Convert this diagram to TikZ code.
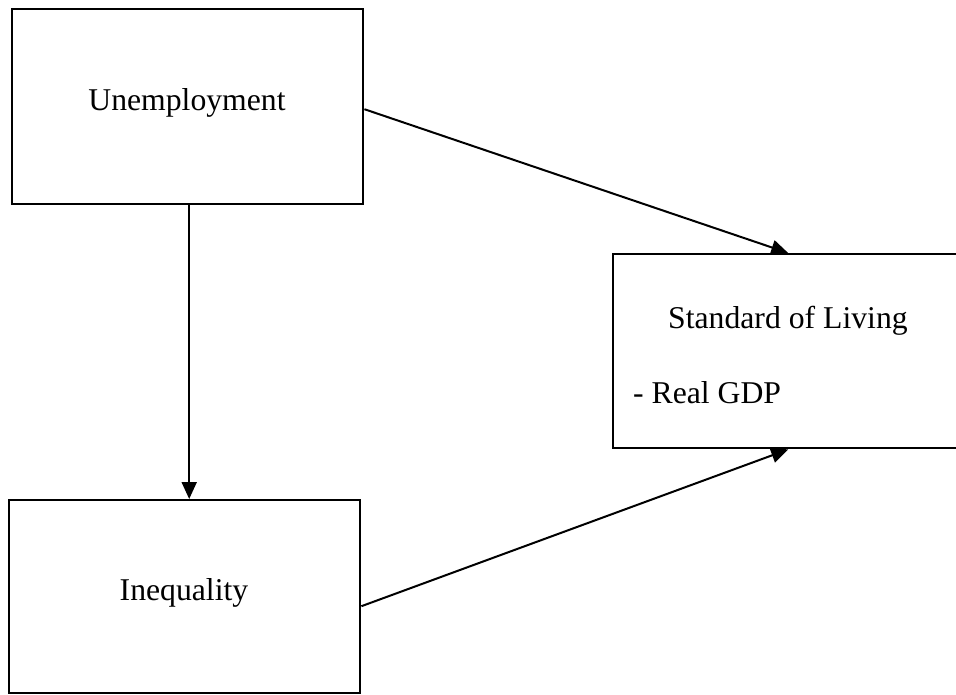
\documentclass[tikz,border=0pt]{standalone}
\usepackage{fontspec}
\setmainfont{Liberation Serif}
\usetikzlibrary{arrows.meta,calc}
\begin{document}
\begin{tikzpicture}[x=1pt,y=-1pt,
  box/.style={draw,line width=2.4pt,inner sep=0pt,anchor=north west},
  lbl/.style={inner sep=0pt,font=\fontsize{31.7}{38}\selectfont},
  conn/.style={line width=2pt,-{Triangle[length=17pt,width=15pt]}}]
\useasboundingbox (0,0) rectangle (956,694);
\node[box,minimum width=351pt,minimum height=195pt] (U) at (11,8) {};
\node[box,minimum width=351pt,minimum height=193pt] (I) at (8,499) {};
\node[box,minimum width=350pt,minimum height=194pt] (S) at (612,253) {};
\node[lbl] (U1) at (187,103) {Unemployment};
\node[lbl] (I1) at (184,593) {Inequality};
\node[lbl,anchor=west] (S1) at (668,321) {Standard of Living};
\node[lbl,anchor=west] (S2) at (633,393) {- Real GDP};
\draw[conn] ([yshift=-2.5pt]U.east) -- (S.north);
\draw[conn] ([xshift=1.5pt]U.south) -- ([xshift=4.5pt]I.north);
\draw[conn] ([yshift=-9.5pt]I.east) -- (S.south);
\end{tikzpicture}
\end{document}
